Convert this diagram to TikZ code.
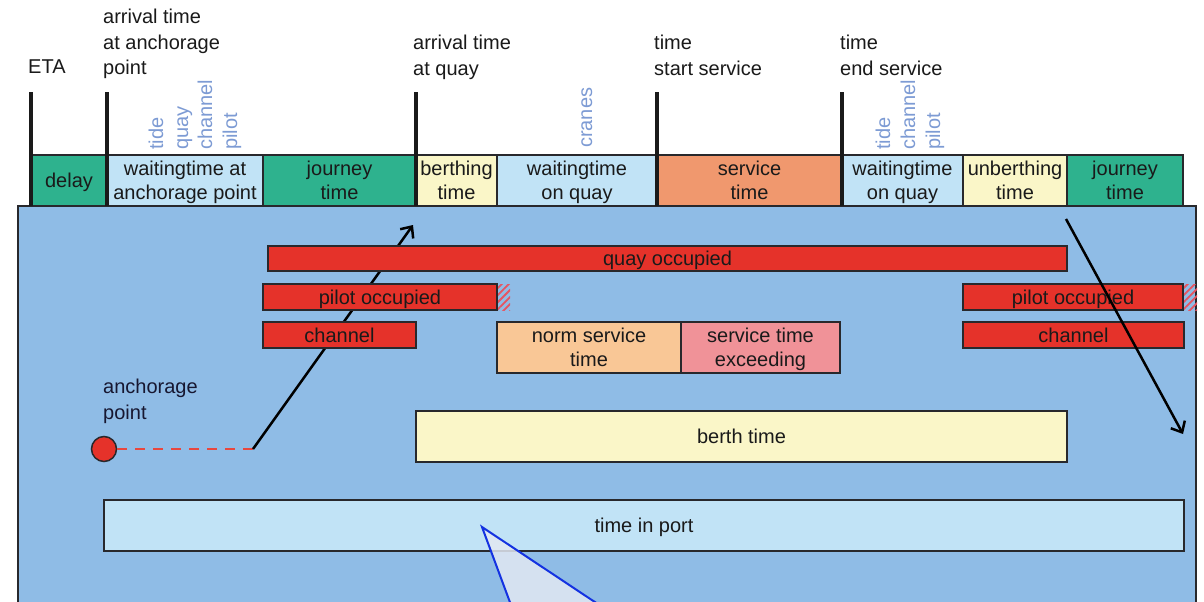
\documentclass[tikz,border=0pt]{standalone}
\usepackage{fontspec}
\setmainfont{Liberation Sans}
\usetikzlibrary{arrows.meta,patterns.meta}

\definecolor{ink}{RGB}{26,26,26}
\definecolor{edge}{RGB}{40,40,44}
\definecolor{panel}{RGB}{143,188,230}
\definecolor{teal}{RGB}{46,178,142}
\definecolor{sky}{RGB}{193,227,246}
\definecolor{cream}{RGB}{250,246,200}
\definecolor{salmon}{RGB}{240,152,110}
\definecolor{busy}{RGB}{229,50,42}
\definecolor{norm}{RGB}{249,199,150}
\definecolor{excess}{RGB}{240,146,152}
\definecolor{cause}{RGB}{125,155,212}
\definecolor{hatch}{RGB}{232,84,96}
\definecolor{callout}{RGB}{226,232,242}
\definecolor{calloutedge}{RGB}{20,50,225}

% rectangle spanning (x1,y1)-(x2,y2): name, x1, y1, x2, y2, style, text
\newcommand\slot[7]{%
  \node[box,#6,minimum width={(#4-#2)*1pt},minimum height={(#5-#3)*1pt}]
    (#1) at ({(#2+#4)/2},{(#3+#5)/2}) {#7};}

\begin{document}
\begin{tikzpicture}[x=1pt,y=-1pt,
  lbl/.style={font=\fontsize{20}{24}\selectfont, text=ink, align=center, inner sep=0pt},
  box/.style={lbl, draw=edge, line width=2pt, text depth=-2.5pt},
  event/.style={lbl, align=left, anchor=north west, font=\fontsize{20}{25.5}\selectfont},
  cause/.style={font=\fontsize{20}{24}\selectfont, text=cause, inner sep=0pt, rotate=90, anchor=base west},
  marker/.style={draw=ink, line width=3.5pt},
  route/.style={draw=black, line width=2.5pt},
  routetip/.style={-{Straight Barb[length=9pt,width=16pt,line width=2.5pt]}}
]
\useasboundingbox (0,0) rectangle (1204,602);
\clip (0,0) rectangle (1204,602);
\fill[white] (0,0) rectangle (1204,602);

% port area
\draw[fill=panel, draw=edge, line width=2pt] (18,206) rectangle (1196,650);

% phases along the timeline
\slot{delay}{31}{155}{107}{206}{fill=teal}{delay}
\slot{waitanch}{107}{155}{263}{206}{fill=sky}{waitingtime at\\anchorage point}
\slot{journeyin}{263}{155}{416}{206}{fill=teal}{journey\\time}
\slot{berthing}{416}{155}{497}{206}{fill=cream}{berthing\\time}
\slot{waitquay}{497}{155}{657}{206}{fill=sky}{waitingtime\\on quay}
\slot{service}{657}{155}{842}{206}{fill=salmon}{service\\time}
\slot{waitquay2}{842}{155}{963}{206}{fill=sky}{waitingtime\\on quay}
\slot{unberthing}{963}{155}{1067}{206}{fill=cream}{unberthing\\time}
\slot{journeyout}{1067}{155}{1183}{206}{fill=teal}{journey\\time}

% event markers
\foreach \x/\n in {31/eta,107/anch,416/quay,657/start,842/end}{
  \coordinate (\n top) at (\x,92);
  \coordinate (\n bot) at (\x,206);
  \draw[marker] (\n top) -- (\n bot);
}

% event labels
\node[event] (leta) at (28,60) {ETA};
\node[event] (lanch) at (103,9) {arrival time\\at anchorage\\point};
\node[event] (lquay) at (413,35) {arrival time\\at quay};
\node[event] (lstart) at (654,35) {time\\start service};
\node[event] (lend) at (840,35) {time\\end service};

% causes of waiting
\node[cause] (c1) at (163,150) {tide};
\node[cause] (c2) at (188,150) {quay};
\node[cause] (c3) at (212,150) {channel};
\node[cause] (c4) at (237,150) {pilot};
\node[cause] (c5) at (592,148) {cranes};
\node[cause] (c6) at (890,150) {tide};
\node[cause] (c7) at (915,150) {channel};
\node[cause] (c8) at (940,150) {pilot};

% inbound route from the anchorage point
\node[circle, fill=busy, draw=edge, line width=1.5pt, minimum size=25pt, inner sep=0pt] (anc) at (104,449) {};
\coordinate (turn) at (253,449);
\coordinate (quayin) at (413,225);
\draw[draw=busy!90!white, line width=2.5pt, dash pattern=on 10pt off 8pt] (anc) -- (turn);
\draw[route, routetip] (turn) -- (quayin);
\node[event, font=\fontsize{20}{26}\selectfont, text=ink!90!blue] (lanc) at (103,379) {anchorage\\point};

% occupation of resources
\slot{quayocc}{268}{246}{1067}{271}{fill=busy}{quay occupied}
\slot{pilotin}{263}{284}{497}{310}{fill=busy}{pilot occupied}
\fill[pattern={Lines[angle=45,distance=5pt,line width=1.8pt]}, pattern color=hatch] (498,284) rectangle (510,310);
\slot{channelin}{263}{322}{416}{348}{fill=busy}{channel}
\slot{normsvc}{497}{322}{681}{373}{fill=norm}{norm service\\time}
\slot{excsvc}{681}{322}{840}{373}{fill=excess}{service time\\exceeding}
\slot{pilotout}{963}{284}{1183}{310}{fill=busy}{pilot occupied}
\fill[pattern={Lines[angle=45,distance=5pt,line width=1.8pt]}, pattern color=hatch] (1184,284) rectangle (1197,310);
\slot{channelout}{963}{322}{1184}{348}{fill=busy}{channel}
\slot{berth}{416}{411}{1067}{462}{fill=cream}{berth time}
\slot{inport}{104}{500}{1184}{551}{fill=sky}{time in port}

% outbound route
\coordinate (dep) at (1066,219);
\coordinate (away) at (1183,434);
\draw[route, routetip] (dep) -- (away);

% callout pointer
\coordinate (ptr) at (482,527);
\coordinate (ptrl) at (524,640);
\coordinate (ptrr) at (652,640);
\draw[fill=callout, fill opacity=0.85, draw=calloutedge, line width=2pt, line join=miter] (ptrl) -- (ptr) -- (ptrr);
\end{tikzpicture}
\end{document}
